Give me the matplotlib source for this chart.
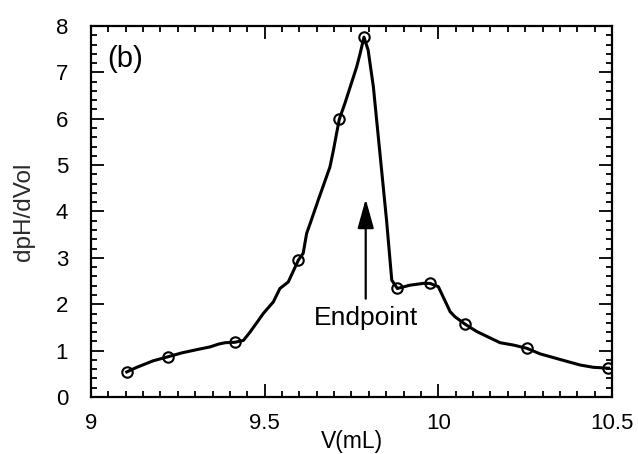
import matplotlib
matplotlib.use("Agg")
import matplotlib.pyplot as plt
from matplotlib.ticker import MultipleLocator

plt.rcParams['font.family'] = ['Liberation Sans', 'DejaVu Sans']

# Traced curve (dense points)
curve_v = [9.103, 9.132, 9.179, 9.223, 9.261, 9.304, 9.343, 9.367, 9.386, 9.415,
           9.439, 9.458, 9.482, 9.496, 9.525, 9.544, 9.568, 9.597, 9.611, 9.621,
           9.631, 9.654, 9.688, 9.698, 9.707, 9.715, 9.731, 9.765, 9.775, 9.786,
           9.798, 9.813, 9.832, 9.851, 9.866, 9.882, 9.918, 9.957, 9.976, 10.000,
           10.034, 10.048, 10.077, 10.111, 10.178, 10.216, 10.255, 10.293, 10.350,
           10.408, 10.446, 10.490]
curve_d = [0.54, 0.64, 0.78, 0.87, 0.95, 1.02, 1.08, 1.14, 1.17, 1.18,
           1.22, 1.40, 1.65, 1.80, 2.05, 2.34, 2.48, 2.95, 3.10, 3.53,
           3.74, 4.24, 4.96, 5.32, 5.68, 5.99, 6.33, 7.12, 7.41, 7.76,
           7.48, 6.69, 5.25, 3.81, 2.52, 2.34, 2.41, 2.45, 2.45, 2.38,
           1.84, 1.73, 1.57, 1.41, 1.17, 1.12, 1.05, 0.93, 0.81,
           0.69, 0.64, 0.62]

# Measured points (circles)
pts_v = [9.103, 9.223, 9.415, 9.597, 9.715, 9.786, 9.882, 9.976, 10.077, 10.255, 10.490]
pts_d = [0.54, 0.87, 1.18, 2.95, 5.99, 7.76, 2.34, 2.45, 1.57, 1.05, 0.62]

x_ticks = [9, 9.5, 10, 10.5]
x_tick_labels = ['9', '9.5', '10', '10.5']
y_ticks = [0, 1, 2, 3, 4, 5, 6, 7, 8]

fig = plt.figure(figsize=(6.38, 4.54), dpi=100)
ax = fig.add_axes([0.1426, 0.1256, 0.8166, 0.8171])

ax.plot(curve_v, curve_d, color='black', lw=2.2, solid_joinstyle='round')
ax.plot(pts_v, pts_d, 'o', ms=7.5, mfc='none', mec='black', mew=1.5)

ax.set_xlim(9, 10.5)
ax.set_ylim(0, 8)
ax.set_xticks(x_ticks)
ax.set_xticklabels(x_tick_labels)
ax.set_yticks(y_ticks)
ax.xaxis.set_minor_locator(MultipleLocator(0.05))
ax.yaxis.set_minor_locator(MultipleLocator(0.2))

ax.tick_params(which='both', direction='in', top=True, right=True, colors='black')
ax.tick_params(which='major', length=9.5, width=1.3, labelsize=16)
ax.tick_params(which='minor', length=4.5, width=1.3)
ax.tick_params(axis='y', which='major', pad=16.5)
ax.tick_params(axis='x', which='major', pad=11.5)

for s in ax.spines.values():
    s.set_linewidth(1.6)

ax.set_xlabel('V(mL)', fontsize=16.5, labelpad=-2.5)
ax.set_ylabel('dpH/dVol', fontsize=17.5, color='#2a2a2a', labelpad=15)

ax.text(9.046, 7.28, '(b)', fontsize=21, ha='left', va='center')

ax.annotate('', xy=(9.791, 4.27), xytext=(9.791, 2.12),
            arrowprops=dict(arrowstyle='-|>,head_length=1.8,head_width=0.5',
                            color='black', lw=1.6, shrinkA=0, shrinkB=0))
ax.text(9.791, 1.55, 'Endpoint', fontsize=19, ha='center', va='baseline')

fig.savefig('out.png', dpi=100)
